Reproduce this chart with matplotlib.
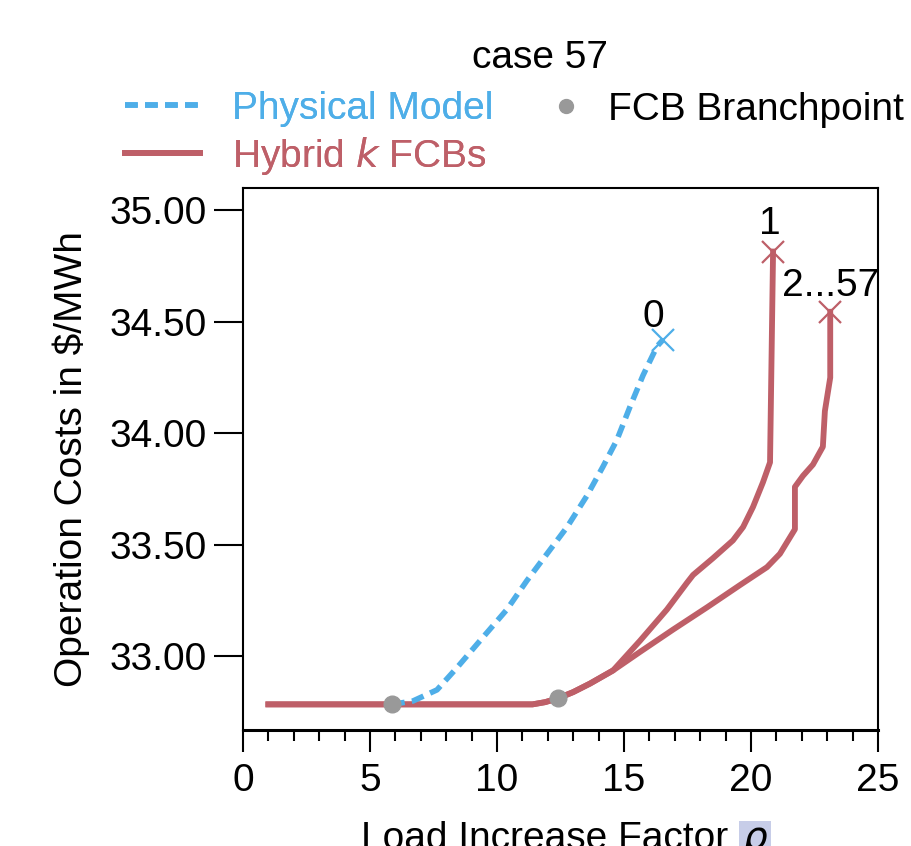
import matplotlib
matplotlib.use('Agg')
import matplotlib.pyplot as plt
from matplotlib.lines import Line2D

plt.rcParams['font.family'] = ['Liberation Sans', 'DejaVu Sans']
plt.rcParams['font.size'] = 28

# physical model (blue, dashed)
phys_x = [5.87, 6.69, 7.64, 8.43, 9.33, 10.39, 11.18, 11.97, 12.76, 13.54,
          14.17, 14.72, 15.24, 15.75, 16.30, 16.54]
phys_y = [32.785, 32.80, 32.85, 32.95, 33.07, 33.21, 33.34, 33.46, 33.58, 33.72,
          33.85, 33.97, 34.12, 34.26, 34.39, 34.42]

# hybrid with k=1 FCB
hyb1_x = [1.0, 11.4, 11.9, 12.4, 13.0, 13.66, 14.57, 15.63, 16.69, 17.48,
          17.72, 18.50, 19.29, 19.69, 20.08, 20.47, 20.75, 20.87]
hyb1_y = [32.785, 32.785, 32.795, 32.812, 32.84, 32.878, 32.937, 33.07, 33.21, 33.33,
          33.365, 33.44, 33.52, 33.58, 33.67, 33.78, 33.87, 34.815]

# hybrid with k=2..57 FCBs
hyb2_x = [1.0, 11.4, 11.9, 12.4, 13.0, 13.66, 14.57, 15.63, 16.93, 18.27,
          19.57, 20.63, 21.14, 21.73, 21.73, 22.05, 22.44, 22.83, 22.91, 23.12, 23.12]
hyb2_y = [32.785, 32.785, 32.795, 32.812, 32.84, 32.878, 32.937, 33.02, 33.12, 33.22,
          33.32, 33.40, 33.46, 33.57, 33.76, 33.81, 33.86, 33.94, 34.10, 34.25, 34.545]

branch_x = [5.87, 12.4]
branch_y = [32.785, 32.812]

end_labels = ['0', '1', '2...57']
label_x = [16.15, 20.75, 23.15]
label_y = [34.52, 34.94, 34.66]

blue = '#4EAEE8'
red = '#BE5F68'
gray = '#999999'

fig = plt.figure(figsize=(9.12, 8.46), dpi=100)
ax = fig.add_axes([0.2664, 0.1371, 0.6963, 0.6407])

ax.plot(hyb2_x, hyb2_y, color=red, lw=4.2, marker='x', markevery=[-1],
        markersize=16, markeredgewidth=1.6, solid_joinstyle='round')
ax.plot(hyb1_x, hyb1_y, color=red, lw=4.2, marker='x', markevery=[-1],
        markersize=16, markeredgewidth=1.6, solid_joinstyle='round')
ax.plot(phys_x, phys_y, color=blue, lw=4, dashes=(2.3, 1.3), marker='x',
        markevery=[-1], markersize=16, markeredgewidth=1.6)
ax.plot(branch_x, branch_y, 'o', color=gray, markersize=12, zorder=5)

for t, x, y in zip(end_labels, label_x, label_y):
    ax.text(x, y, t, ha='center', va='center')

ax.set_xlim(0, 25)
ax.set_ylim(32.67, 35.10)
ax.set_xticks([0, 5, 10, 15, 20, 25])
ax.set_xticks(range(0, 26), minor=True)
ax.set_yticks([33.0, 33.5, 34.0, 34.5, 35.0])
ax.set_yticklabels(['33.00', '33.50', '34.00', '34.50', '35.00'])
ax.tick_params(axis='y', which='major', length=21, width=1.5, pad=5)
ax.tick_params(axis='x', which='major', length=16, width=1.5, pad=8)
ax.tick_params(axis='x', which='minor', length=8, width=1.5)
for s in ax.spines.values():
    s.set_linewidth(1.5)
ax.spines['bottom'].set_linewidth(2.2)
ax.set_ylabel('Operation Costs in $/MWh', labelpad=14)

# x label is cut at the lower edge of the picture, as in the source figure
fig.text(728 / 912, -0.004, 'Load Increase Factor', ha='right', va='baseline')
fig.text(742 / 912, -0.004, r'$\rho$', ha='left', va='baseline',
         bbox=dict(facecolor='#C7CDE8', edgecolor='none', pad=2))

fig.text(540 / 912, 1 - 58 / 846, 'case 57', ha='center', va='center')

h1 = [Line2D([], [], color=blue, lw=4, dashes=(2.3, 1.3)),
      Line2D([], [], color=red, lw=4.2)]
leg1 = fig.legend(h1, ['Physical Model', r'Hybrid $k$ FCBs'],
                  loc='center left', bbox_to_anchor=(125 / 912, 1 - 134 / 846),
                  frameon=False, handlelength=1.93, handletextpad=0.82,
                  labelspacing=0.2, borderpad=0, borderaxespad=0,
                  labelcolor=[blue, red])
fig.add_artist(leg1)
h2 = [Line2D([], [], color=gray, marker='o', ls='none', markersize=10)]
fig.legend(h2, ['FCB Branchpoint'], loc='center left',
           bbox_to_anchor=(547 / 912, 1 - 110 / 846), frameon=False,
           handlelength=1.0, handletextpad=0.57, borderpad=0, borderaxespad=0)

fig.savefig('out.png', dpi=100)
